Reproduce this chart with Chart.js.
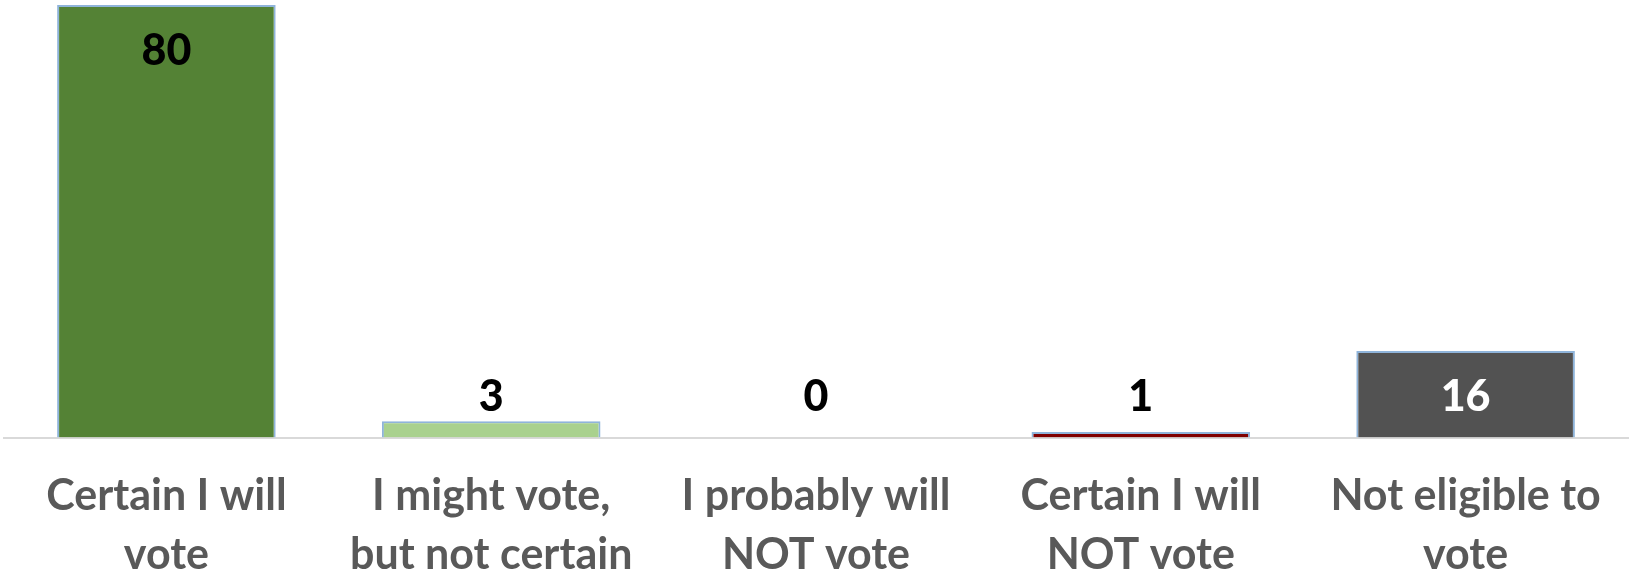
<!DOCTYPE html>
<html>
<head>
<meta charset="utf-8">
<script src="https://cdn.jsdelivr.net/npm/chart.js@4.4.1/dist/chart.umd.min.js"></script>
<style>
  html, body { margin: 0; padding: 0; background: #ffffff; }
  #wrap { width: 1633px; height: 579px; position: relative; }
</style>
</head>
<body>
<div id="wrap"><canvas id="c"></canvas></div>
<script>
const categories = [
  ["Certain I will", "vote"],
  ["I might vote,", "but not certain"],
  ["I probably will", "NOT vote"],
  ["Certain I will", "NOT vote"],
  ["Not eligible to", "vote"]
];
const values = [80, 3, 0, 1, 16];
const barColors = ["#548235", "#A9D18E", "#FFFFFF", "#7F0000", "#525252"];
const labelColors = ["#000000", "#000000", "#000000", "#000000", "#FFFFFF"];

const valueLabels = {
  id: "valueLabels",
  afterDatasetsDraw(chart) {
    const ctx = chart.ctx;
    const meta = chart.getDatasetMeta(0);
    const base = chart.scales.y.getPixelForValue(0);
    ctx.save();
    ctx.font = "900 43px Lato";
    ctx.textAlign = "center";
    ctx.textBaseline = "middle";
    meta.data.forEach((bar, i) => {
      const y = Math.min(bar.y + 46, base - 40);
      ctx.fillStyle = labelColors[i];
      ctx.fillText(String(values[i]), bar.x, y);
    });
    ctx.restore();
  }
};

new Chart(document.getElementById("c"), {
  type: "bar",
  data: {
    labels: categories,
    datasets: [{
      data: values,
      backgroundColor: barColors,
      borderColor: "#8FB4DA",
      borderWidth: 2,
      barPercentage: 0.673,
      categoryPercentage: 1.0
    }]
  },
  options: {
    responsive: true,
    maintainAspectRatio: false,
    animation: false,
    layout: { padding: { left: 4, right: 5, top: 5, bottom: 0 } },
    plugins: { legend: { display: false }, tooltip: { enabled: false } },
    scales: {
      x: {
        grid: { display: false, drawTicks: false },
        border: { display: true, color: "#D9D9D9", width: 2 },
        ticks: {
          color: "#595959",
          font: { family: "Lato", weight: "bold", size: 43, lineHeight: 1.38 },
          padding: 29,
          maxRotation: 0,
          autoSkip: false
        },
        afterFit(scale) { scale.height = 141.5; }
      },
      y: {
        display: false,
        min: 0,
        max: 80
      }
    }
  },
  plugins: [valueLabels]
});
</script>
</body>
</html>
